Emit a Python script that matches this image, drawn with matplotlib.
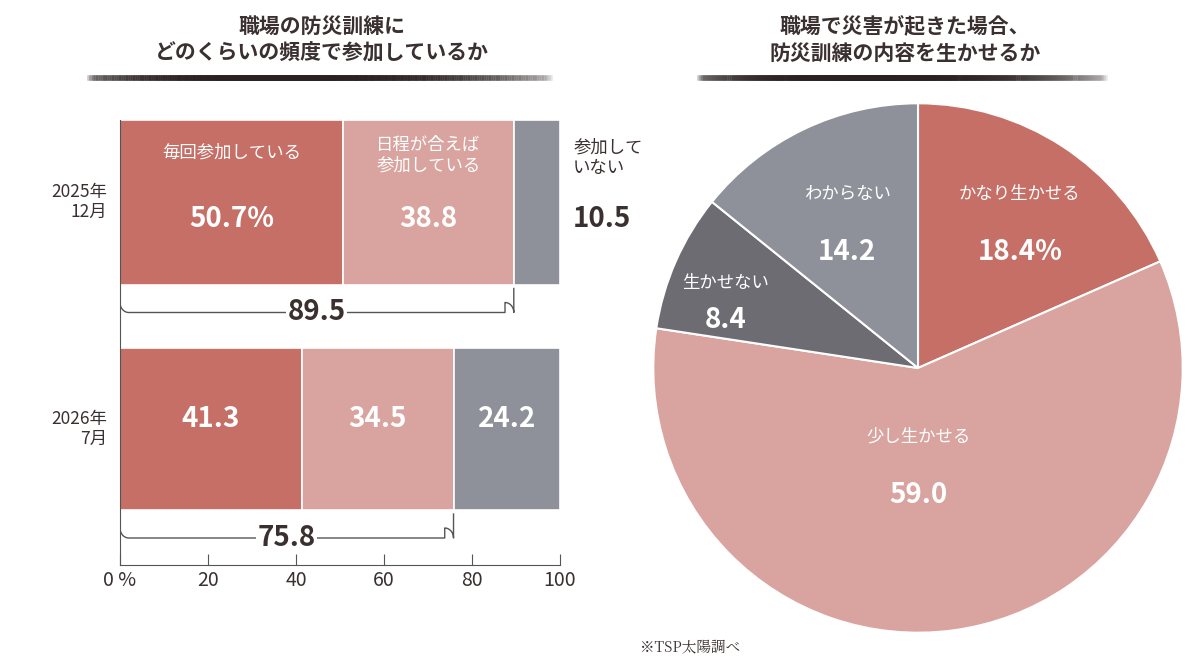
import numpy as np
import matplotlib
matplotlib.use('Agg')
import matplotlib.pyplot as plt

plt.rcParams['font.family'] = ['Noto Sans CJK JP', 'DejaVu Sans']

# 左：訓練への参加頻度
years = ['2025年\n12月', '2026年\n7月']
bar_names = ['毎回参加している', '日程が合えば\n参加している', '参加して\nいない']
bar_vals = [[50.7, 38.8, 10.5], [41.3, 34.5, 24.2]]
bar_texts = [['50.7%', '38.8', '10.5'], ['41.3', '34.5', '24.2']]
totals = [89.5, 75.8]
ticks = [0, 20, 40, 60, 80, 100]
tick_labels = ['0 %', '20', '40', '60', '80', '100']

# 右：訓練内容を生かせるか
pie_names = ['かなり生かせる', '少し生かせる', '生かせない', 'わからない']
pie_vals = [18.4, 59.0, 8.4, 14.2]
pie_texts = ['18.4%', '59.0', '8.4', '14.2']

RED = '#c56f66'
PINK = '#d9a49f'
GRAY = '#8e9199'
DGRAY = '#6d6c72'
TXT = '#3a3030'

fig = plt.figure(figsize=(12, 6.69), dpi=100)


def px(x, y):
    return x / 1200, 1 - y / 669


def title_line(x0, x1, y):
    xs = np.linspace(x0, x1, 200)
    for i in range(len(xs) - 1):
        t = (xs[i] - x0) / (x1 - x0)
        a = min(1.0, 2.2 * min(t, 1 - t) + 0.25) if t < 0.5 else min(1.0, 1.6 * (1 - t) + 0.1)
        fig.add_artist(plt.Line2D([xs[i] / 1200, xs[i + 1] / 1200], [1 - y / 669] * 2,
                                  color='#2a2222', lw=4, alpha=a, transform=fig.transFigure))


fig.text(*px(322, 40), '職場の防災訓練に\nどのくらいの頻度で参加しているか', ha='center', va='center',
         fontsize=15, fontweight='bold', color=TXT, linespacing=1.35)
title_line(90, 550, 78)
fig.text(*px(905, 40), '職場で災害が起きた場合、\n防災訓練の内容を生かせるか', ha='center', va='center',
         fontsize=15, fontweight='bold', color=TXT, linespacing=1.35)
title_line(700, 1105, 78)

# 棒グラフ
l, b = px(120, 565)
ax = fig.add_axes([l, b, 440 / 1200, 465 / 669])
ax.set_xlim(0, 100)
ax.set_ylim(565, 100)
centers = [202, 429]
heights = [165, 162]
colors = [RED, PINK, GRAY]
for c, h, vals, texts in zip(centers, heights, bar_vals, bar_texts):
    left = 0
    for j, v in enumerate(vals):
        ax.barh(c, v, height=h, left=left, color=colors[j], edgecolor='white', lw=1.2)
        left += v
ax.text(50.7 / 2, 153, bar_names[0], ha='center', va='center', color='white', fontsize=12.5)
ax.text(50.7 + 38.8 / 2, 155, bar_names[1], ha='center', va='center', color='white', fontsize=12.5, linespacing=1.15)
ax.text(103, 158, bar_names[2], ha='left', va='center', color=TXT, fontsize=12.5, linespacing=1.15, clip_on=False)
for k, (c, texts) in enumerate(zip(centers, bar_texts)):
    left = 0
    for j, v in enumerate(bar_vals[k]):
        x = left + v / 2
        y = c + 17 if k == 0 else c - 10
        col = 'white'
        if k == 0 and j == 2:
            x, col = 103, TXT
            ax.text(x, y, texts[j], ha='left', va='center', color=col, fontsize=20, fontweight='bold', clip_on=False)
        else:
            ax.text(x, y, texts[j], ha='center', va='center', color=col, fontsize=20, fontweight='bold')
        left += v
    ax.text(-3, c, years[k], ha='right', va='center', fontsize=12.5, color=TXT, linespacing=1.1, clip_on=False)

# かっこ
for c, h, tot in zip(centers, heights, totals):
    top = c + h / 2 + 4
    yb = top + 24
    r = 2.0
    t = np.linspace(0, np.pi / 2, 20)
    xs = np.concatenate([[0], r - r * np.cos(t), [tot - r], tot - r + r * np.sin(t), [tot]])
    ys = np.concatenate([[top], yb - 10 + 10 * np.sin(t), [yb], yb - 10 * np.cos(t), [top]])
    ax.plot(xs, ys, color='#555', lw=1)
    ax.text(tot / 2, yb, f'{tot}', ha='center', va='center', fontsize=20, fontweight='bold', color=TXT,
            bbox=dict(facecolor='white', edgecolor='none', pad=1))

for s in ['top', 'right']:
    ax.spines[s].set_visible(False)
ax.spines['left'].set_bounds(565, 120)
ax.spines['left'].set_color('#555')
ax.spines['bottom'].set_color('#555')
ax.set_yticks([])
ax.set_xticks(ticks)
ax.set_xticklabels(tick_labels, fontsize=14, color=TXT)
ax.tick_params(axis='x', length=8, direction='in', color='#555')

# 円グラフ
cx, cy = px(918, 368)
w = 540 / 1200
hh = 540 / 669
ax2 = fig.add_axes([cx - w / 2, cy - hh / 2, w, hh])
wedges, _ = ax2.pie(pie_vals, colors=[RED, PINK, DGRAY, GRAY], startangle=90, counterclock=False,
                    wedgeprops=dict(edgecolor='white', linewidth=1.5))
ax2.set_xlim(-1.02, 1.02)
ax2.set_ylim(-1.02, 1.02)
radii = [0.67, 0.37, 0.77, 0.61]
angles = [55, -90, 161, 116]
gaps = [0.11, 0.11, 0.07, 0.11]
for name, txt, r, a, g in zip(pie_names, pie_texts, radii, angles, gaps):
    x = r * np.cos(np.radians(a))
    y = r * np.sin(np.radians(a))
    ax2.text(x, y + g, name, ha='center', va='center', color='white', fontsize=12.5)
    ax2.text(x, y - g, txt, ha='center', va='center', color='white', fontsize=20, fontweight='bold')

fig.text(*px(690, 648), '※TSP太陽調べ', ha='center', va='center', fontsize=10.5, color=TXT,
         family=['Noto Serif CJK JP', 'Noto Sans CJK JP', 'DejaVu Serif'])

fig.savefig('out.png', dpi=100, facecolor='white')
